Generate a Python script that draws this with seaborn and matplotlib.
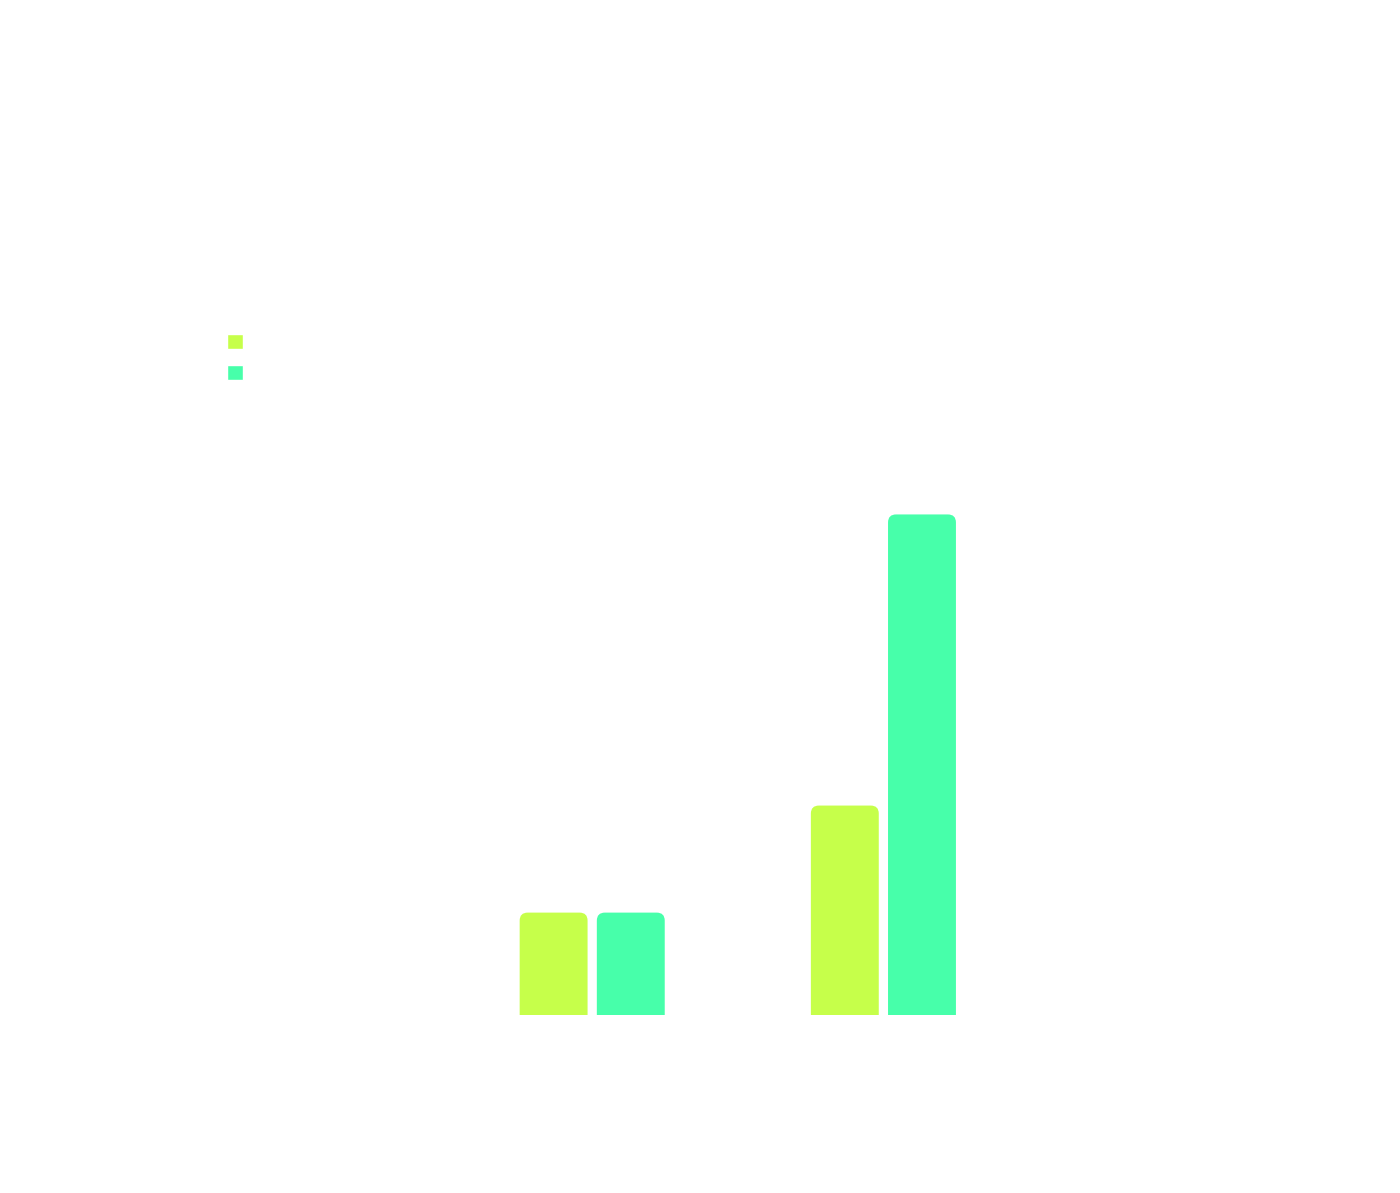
import numpy as np
import pandas as pd
import seaborn as sns
import matplotlib
matplotlib.use("Agg")
import matplotlib.pyplot as plt
from matplotlib.patches import FancyBboxPatch

# values (text in the original is white on white)
categories = ["Q1", "Q2", "Q3", "Q4"]
series_names = ["Series 1", "Series 2"]
series_1 = [0.0, 1.02, 2.09, 0.0]
series_2 = [0.0, 1.02, 5.0, 0.0]
colors = ["#C6FF4A", "#47FFAA"]

df = pd.DataFrame({
    "category": categories * 2,
    "series": [series_names[0]] * 4 + [series_names[1]] * 4,
    "value": series_1 + series_2,
})

sns.set_theme(style="white")
plt.rcParams["font.family"] = ["DejaVu Sans"]

fig = plt.figure(figsize=(14, 11.93), dpi=100, facecolor="white")
ax = fig.add_axes([0.111, 0.1495, 0.832, 0.587])
ax.set_facecolor("white")

sns.barplot(data=df, x="category", y="value", hue="series", palette=colors,
            width=0.53, gap=0.12, saturation=1, ax=ax, errorbar=None)
ax.set_ylim(0, 7)

# round the top corners of each bar
px_x = 1 / 291.0   # data units per pixel along x
px_y = 0.01        # data units per pixel along y
r = 8 * px_x
asp = px_y / px_x
for bar in list(ax.patches):
    h = bar.get_height()
    if h <= 0:
        bar.remove()
        continue
    fb = FancyBboxPatch((bar.get_x(), -r * asp), bar.get_width(), h + r * asp,
                        boxstyle=f"round,pad=0,rounding_size={r}",
                        mutation_aspect=asp, facecolor=bar.get_facecolor(),
                        edgecolor="none", linewidth=0)
    bar.remove()
    ax.add_patch(fb)

sns.despine(ax=ax, left=True, bottom=True)
ax.tick_params(colors="white", length=0, labelsize=14)
ax.set_xlabel("")
ax.set_ylabel("")

sns.move_legend(ax, "upper left", bbox_to_anchor=(227 / 1400, 1 - 333 / 1193),
                bbox_transform=fig.transFigure, frameon=False, title=None,
                fontsize=14, handlelength=0.8, handleheight=0.8,
                labelspacing=0.65, borderpad=0, borderaxespad=0, handletextpad=0.6)
for t in ax.get_legend().get_texts():
    t.set_color("white")

fig.savefig("out.png", dpi=100, facecolor="white")
